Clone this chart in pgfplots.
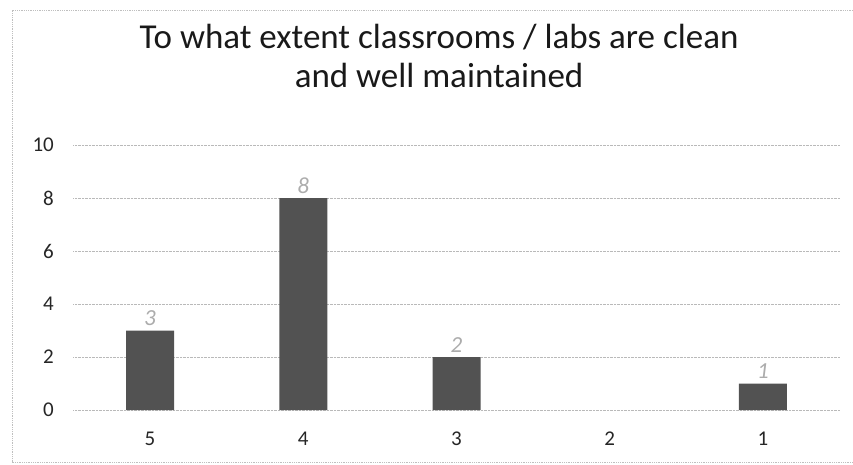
\documentclass[border=0pt]{standalone}
\usepackage{pgfplots}
\pgfplotsset{compat=1.18}
\usepackage{fontspec}
\setmainfont{Carlito}
\begin{document}
\begin{tikzpicture}[x=1pt,y=1pt]
\useasboundingbox (0,0) rectangle (853,464);
\draw[gray!50, densely dotted, line width=0.8pt] (853,454) -- (12,454) -- (12,2) -- (853,2);
\begin{axis}[
  at={(73.4pt,54pt)}, anchor=south west,
  scale only axis, width=766.2pt, height=265pt,
  xmin=-0.5, xmax=4.5, ymin=0, ymax=10,
  xtick={0,1,2,3,4}, xticklabels={5,4,3,2,1},
  ytick={0,2,4,6,8,10},
  major tick length=0pt,
  axis line style={draw=none},
  ymajorgrids,
  grid style={gray!55, densely dotted, line width=0.8pt},
  tick label style={font=\fontsize{21}{24}\selectfont, text=black!85},
  /pgf/number format/assume math mode=true,
  xticklabel shift=18.5pt,
  yticklabel shift=16pt,
  title={To what extent classrooms / labs are clean\\and well maintained},
  title style={font=\fontsize{35}{39}\selectfont, text=black!90, align=center,
    at={(axis description cs:0.4773,1)}, anchor=south, inner sep=0pt, yshift=51pt},
]
\addplot[ybar, bar width=48pt, fill=black!68, draw=none,
  nodes near coords,
  nodes near coords style={font=\fontsize{23}{24}\selectfont\itshape, text=gray!65, anchor=south, yshift=1pt}]
  coordinates {(0,3) (1,8) (2,2) (4,1)};
\end{axis}
\end{tikzpicture}
\end{document}
